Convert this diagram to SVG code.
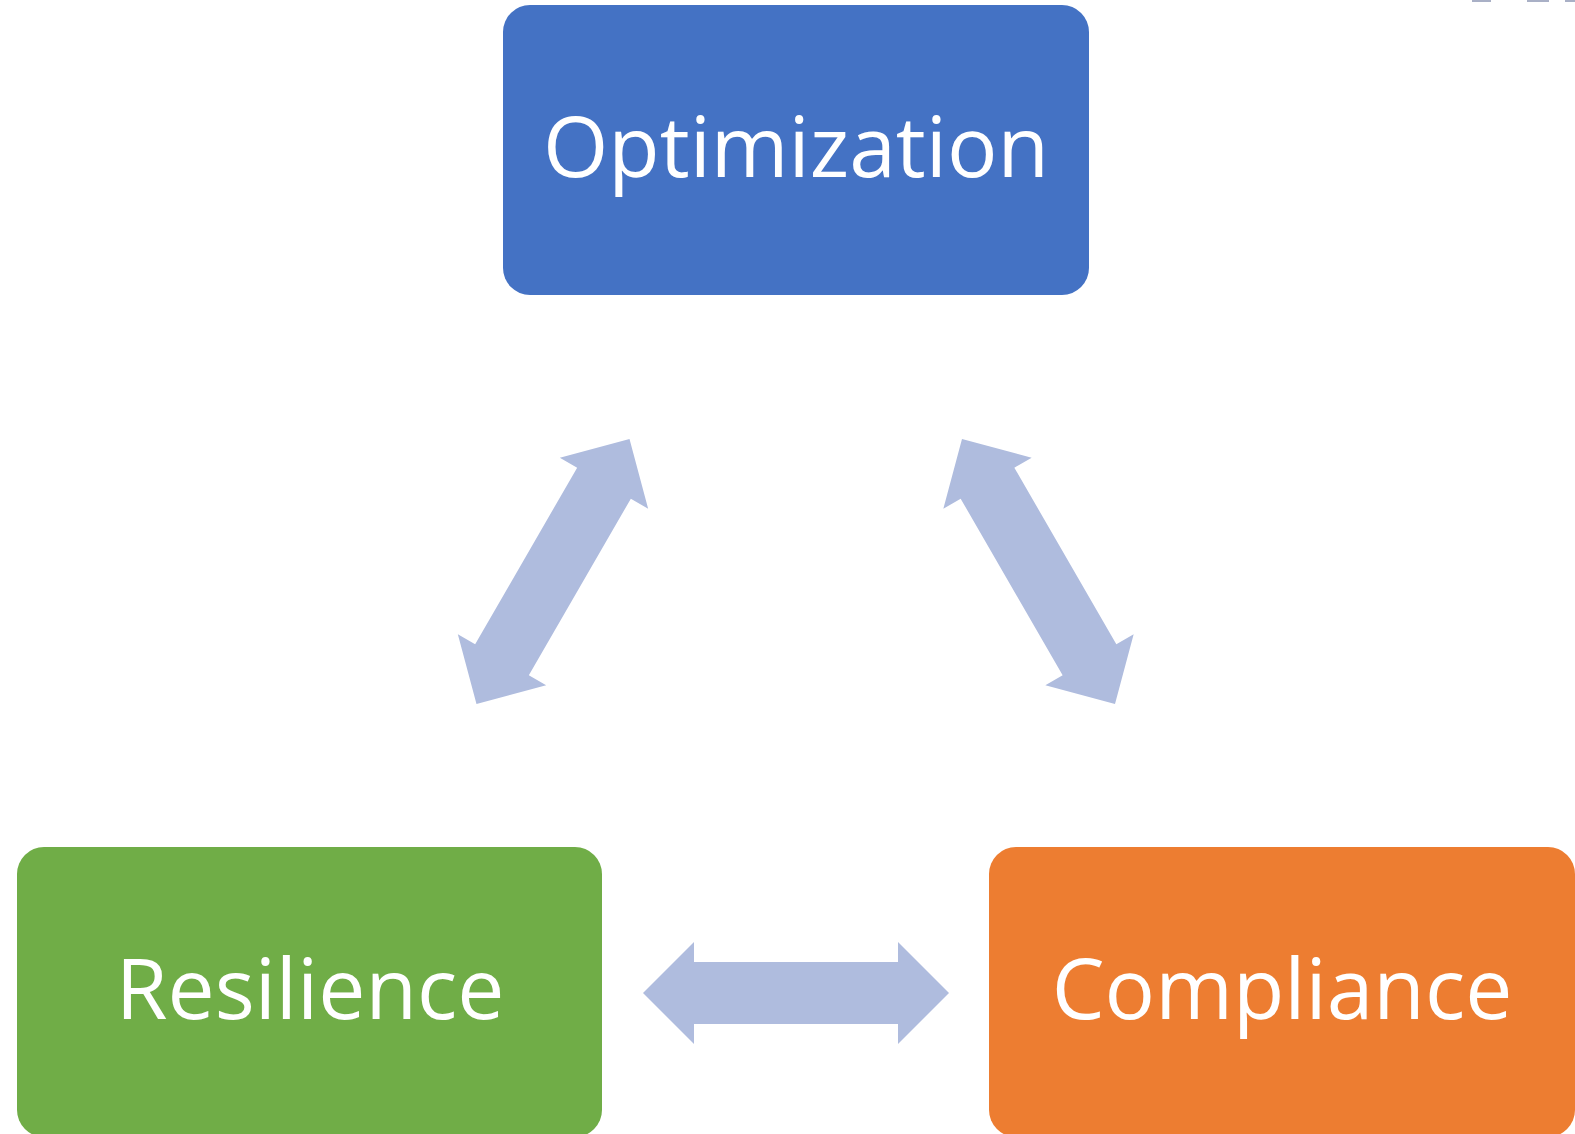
<svg xmlns="http://www.w3.org/2000/svg" xmlns:xlink="http://www.w3.org/1999/xlink" width="1575" height="1134" viewBox="0 0 1575 1134">
  <style>
    .label { font-family: "Open Sans", "Noto Sans", "Liberation Sans", sans-serif; font-size: 84px; fill: #ffffff; text-anchor: middle; }
    .arrow { fill: #AFBCDE; }
    .edge  { fill: #A9B0C6; }
  </style>
  <defs>
    <!-- double-headed block arrow, centred on the origin, pointing along x -->
    <polygon id="dblArrow" points="-153,0 -102,-51 -102,-31 102,-31 102,-51 153,0 102,51 102,31 -102,31 -102,51"/>
  </defs>

  <rect width="1575" height="1134" fill="#ffffff"/>

  <!-- thin marks along the top edge -->
  <rect class="edge" x="1472" y="0" width="19" height="2"/>
  <rect class="edge" x="1527" y="0" width="22" height="2"/>
  <rect class="edge" x="1565" y="0" width="10" height="2"/>

  <g id="connectors" class="arrow">
    <use xlink:href="#dblArrow" transform="translate(553,571.5) rotate(-60)"/>
    <use xlink:href="#dblArrow" transform="translate(1038.5,571.5) rotate(60)"/>
    <use xlink:href="#dblArrow" transform="translate(796,993)"/>
  </g>

  <g id="optimization">
    <rect x="503" y="5" width="586" height="290" rx="27" ry="27" fill="#4472C4"/>
    <text class="label" x="796" y="177">Optimization</text>
  </g>

  <g id="resilience">
    <rect x="17" y="847" width="585" height="290" rx="27" ry="27" fill="#70AD47"/>
    <text class="label" x="310" y="1019">Resilience</text>
  </g>

  <g id="compliance">
    <rect x="989" y="847" width="586" height="290" rx="27" ry="27" fill="#ED7D31"/>
    <text class="label" x="1282" y="1019">Compliance</text>
  </g>
</svg>
